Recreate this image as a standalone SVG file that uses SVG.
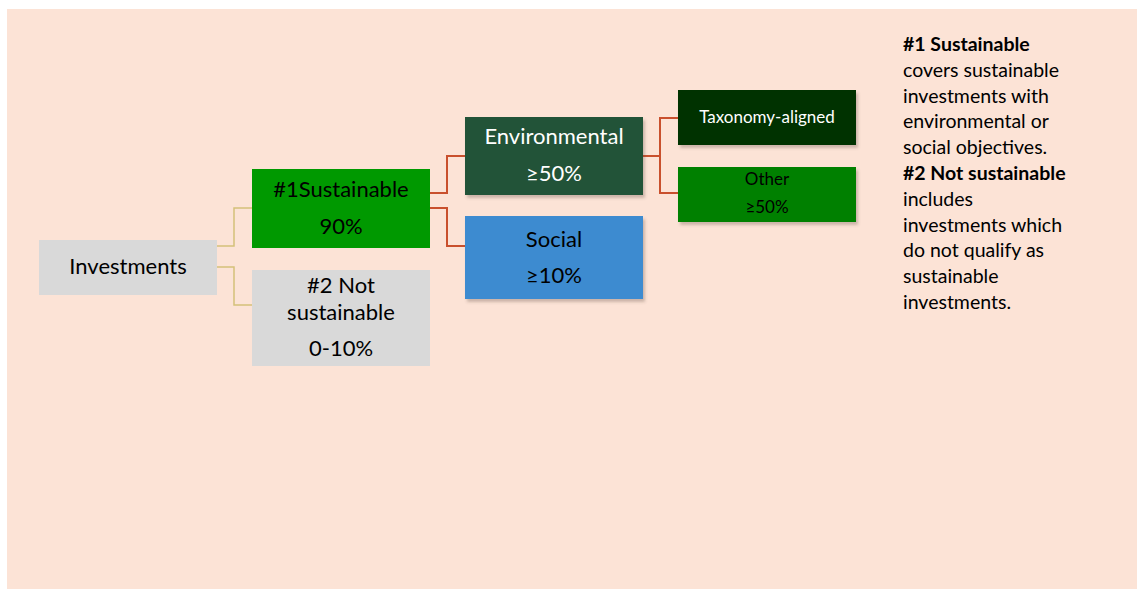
<svg xmlns="http://www.w3.org/2000/svg" width="1140" height="589" viewBox="0 0 1140 589">
<defs>
<filter id="sh" x="-10%" y="-10%" width="130%" height="140%">
<feDropShadow dx="2" dy="3" stdDeviation="1.5" flood-color="#5a4a40" flood-opacity="0.3"/>
</filter>
<style>
text{font-family:Lato,"Open Sans","Liberation Sans",sans-serif;text-anchor:middle}
.big{font-size:22px}
.sm{font-size:17px}
.w{fill:#ffffff}
.k{fill:#000000}
.yc{fill:none;stroke:#D4C17A;stroke-width:1.5}
.rc{fill:none;stroke:#C9502D;stroke-width:2}
.note{font-size:19.5px;text-anchor:start;fill:#000}
.b{font-weight:bold}
</style>
</defs>
<rect x="0" y="0" width="1140" height="589" fill="#ffffff"/>
<rect x="7" y="9" width="1130" height="580" fill="#FCE3D6"/>
<g id="connectors">
<path class="yc" d="M217,246 H234 V208 H252"/>
<path class="yc" d="M217,267 H234 V305 H252"/>
<path class="rc" d="M430,193 H447 V156 H465"/>
<path class="rc" d="M430,208 H447 V246 H465"/>
<path class="rc" d="M643,156 H660 V118 H678"/>
<path class="rc" d="M660,156 V193 H678"/>
</g>
<g id="investments">
<rect x="39" y="240" width="178" height="55" fill="#D9D9D9"/>
<text class="big k" x="128" y="274">Investments</text>
</g>
<g id="sustainable">
<rect x="252" y="169" width="178" height="79" fill="#009900"/>
<text class="big k" x="341" y="197">#1Sustainable</text>
<text class="big k" x="341" y="234">90%</text>
</g>
<g id="not-sustainable">
<rect x="252" y="270" width="178" height="96" fill="#D9D9D9"/>
<text class="big k" x="341" y="293">#2 Not</text>
<text class="big k" x="341" y="320">sustainable</text>
<text class="big k" x="341" y="356">0-10%</text>
</g>
<g id="environmental">
<rect x="465" y="117" width="178" height="78" fill="#245239" filter="url(#sh)"/>
<text class="big w" x="554" y="144">Environmental</text>
<text class="big w" x="554" y="181">≥50%</text>
</g>
<g id="social">
<rect x="465" y="216" width="178" height="83" fill="#3E8BD0" filter="url(#sh)"/>
<text class="big k" x="554" y="247">Social</text>
<text class="big k" x="554" y="283">≥10%</text>
</g>
<g id="taxonomy">
<rect x="678" y="90" width="178" height="55" fill="#013300" filter="url(#sh)"/>
<text class="sm w" x="767" y="123">Taxonomy-aligned</text>
</g>
<g id="other">
<rect x="678" y="167" width="178" height="55" fill="#008000" filter="url(#sh)"/>
<text class="sm k" x="767" y="185">Other</text>
<text class="sm k" x="767" y="213">≥50%</text>
</g>
<g id="legend">
<text class="note b" x="903" y="51">#1 Sustainable</text>
<text class="note" x="903" y="77">covers sustainable</text>
<text class="note" x="903" y="103">investments with</text>
<text class="note" x="903" y="128">environmental or</text>
<text class="note" x="903" y="154">social objectives.</text>
<text class="note b" x="903" y="180">#2 Not sustainable</text>
<text class="note" x="903" y="206">includes</text>
<text class="note" x="903" y="232">investments which</text>
<text class="note" x="903" y="257">do not qualify as</text>
<text class="note" x="903" y="283">sustainable</text>
<text class="note" x="903" y="309">investments.</text>
</g>
</svg>
